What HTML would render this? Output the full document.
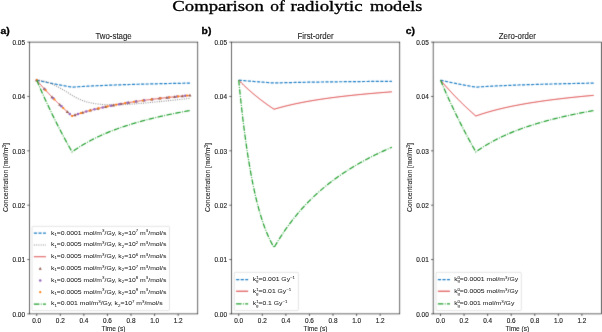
<!DOCTYPE html>
<html><head><meta charset="utf-8"><style>
html,body{margin:0;padding:0;background:#fff;width:602px;height:332px;overflow:hidden}
svg{display:block}
</style></head><body>
<svg width="602" height="332" viewBox="0 0 602 332">
<defs><filter id="bl" color-interpolation-filters="sRGB" x="0" y="0" width="602" height="332" filterUnits="userSpaceOnUse"><feConvolveMatrix order="3" kernelMatrix="1 6 1 6 36 6 1 6 1" divisor="64" edgeMode="duplicate"/></filter><filter id="tf" color-interpolation-filters="sRGB" x="0" y="0" width="602" height="332" filterUnits="userSpaceOnUse"><feConvolveMatrix order="3" kernelMatrix="0 0 0 0 1 0 0 0 0" divisor="1" edgeMode="none"/></filter></defs>
<rect width="602" height="332" fill="#fff"/>
<g filter="url(#bl)">
<rect width="602" height="332" fill="#fff"/>
<line x1="27.28" y1="313.90" x2="29.38" y2="313.90" stroke="#000" stroke-width="0.6"/>
<line x1="27.28" y1="259.54" x2="29.38" y2="259.54" stroke="#000" stroke-width="0.6"/>
<line x1="27.28" y1="205.18" x2="29.38" y2="205.18" stroke="#000" stroke-width="0.6"/>
<line x1="27.28" y1="150.82" x2="29.38" y2="150.82" stroke="#000" stroke-width="0.6"/>
<line x1="27.28" y1="96.46" x2="29.38" y2="96.46" stroke="#000" stroke-width="0.6"/>
<line x1="27.28" y1="42.10" x2="29.38" y2="42.10" stroke="#000" stroke-width="0.6"/>
<line x1="36.73" y1="313.90" x2="36.73" y2="316.00" stroke="#000" stroke-width="0.6"/>
<line x1="60.30" y1="313.90" x2="60.30" y2="316.00" stroke="#000" stroke-width="0.6"/>
<line x1="83.87" y1="313.90" x2="83.87" y2="316.00" stroke="#000" stroke-width="0.6"/>
<line x1="107.44" y1="313.90" x2="107.44" y2="316.00" stroke="#000" stroke-width="0.6"/>
<line x1="131.01" y1="313.90" x2="131.01" y2="316.00" stroke="#000" stroke-width="0.6"/>
<line x1="154.58" y1="313.90" x2="154.58" y2="316.00" stroke="#000" stroke-width="0.6"/>
<line x1="178.15" y1="313.90" x2="178.15" y2="316.00" stroke="#000" stroke-width="0.6"/>
<line x1="229.28" y1="313.90" x2="231.38" y2="313.90" stroke="#000" stroke-width="0.6"/>
<line x1="229.28" y1="259.54" x2="231.38" y2="259.54" stroke="#000" stroke-width="0.6"/>
<line x1="229.28" y1="205.18" x2="231.38" y2="205.18" stroke="#000" stroke-width="0.6"/>
<line x1="229.28" y1="150.82" x2="231.38" y2="150.82" stroke="#000" stroke-width="0.6"/>
<line x1="229.28" y1="96.46" x2="231.38" y2="96.46" stroke="#000" stroke-width="0.6"/>
<line x1="229.28" y1="42.10" x2="231.38" y2="42.10" stroke="#000" stroke-width="0.6"/>
<line x1="238.73" y1="313.90" x2="238.73" y2="316.00" stroke="#000" stroke-width="0.6"/>
<line x1="262.30" y1="313.90" x2="262.30" y2="316.00" stroke="#000" stroke-width="0.6"/>
<line x1="285.87" y1="313.90" x2="285.87" y2="316.00" stroke="#000" stroke-width="0.6"/>
<line x1="309.44" y1="313.90" x2="309.44" y2="316.00" stroke="#000" stroke-width="0.6"/>
<line x1="333.01" y1="313.90" x2="333.01" y2="316.00" stroke="#000" stroke-width="0.6"/>
<line x1="356.58" y1="313.90" x2="356.58" y2="316.00" stroke="#000" stroke-width="0.6"/>
<line x1="380.15" y1="313.90" x2="380.15" y2="316.00" stroke="#000" stroke-width="0.6"/>
<line x1="431.05" y1="313.90" x2="433.15" y2="313.90" stroke="#000" stroke-width="0.6"/>
<line x1="431.05" y1="259.54" x2="433.15" y2="259.54" stroke="#000" stroke-width="0.6"/>
<line x1="431.05" y1="205.18" x2="433.15" y2="205.18" stroke="#000" stroke-width="0.6"/>
<line x1="431.05" y1="150.82" x2="433.15" y2="150.82" stroke="#000" stroke-width="0.6"/>
<line x1="431.05" y1="96.46" x2="433.15" y2="96.46" stroke="#000" stroke-width="0.6"/>
<line x1="431.05" y1="42.10" x2="433.15" y2="42.10" stroke="#000" stroke-width="0.6"/>
<line x1="440.50" y1="313.90" x2="440.50" y2="316.00" stroke="#000" stroke-width="0.6"/>
<line x1="464.07" y1="313.90" x2="464.07" y2="316.00" stroke="#000" stroke-width="0.6"/>
<line x1="487.64" y1="313.90" x2="487.64" y2="316.00" stroke="#000" stroke-width="0.6"/>
<line x1="511.21" y1="313.90" x2="511.21" y2="316.00" stroke="#000" stroke-width="0.6"/>
<line x1="534.78" y1="313.90" x2="534.78" y2="316.00" stroke="#000" stroke-width="0.6"/>
<line x1="558.35" y1="313.90" x2="558.35" y2="316.00" stroke="#000" stroke-width="0.6"/>
<line x1="581.92" y1="313.90" x2="581.92" y2="316.00" stroke="#000" stroke-width="0.6"/>
<path d="M36.73,80.15 L37.32,80.29 L37.91,80.42 L38.50,80.56 L39.09,80.69 L39.68,80.82 L40.27,80.96 L40.85,81.09 L41.44,81.22 L42.03,81.35 L42.62,81.48 L43.21,81.61 L43.80,81.73 L44.39,81.86 L44.98,81.99 L45.57,82.11 L46.16,82.24 L46.75,82.36 L47.34,82.49 L47.93,82.61 L48.52,82.73 L49.10,82.85 L49.69,82.98 L50.28,83.10 L50.87,83.22 L51.46,83.34 L52.05,83.46 L52.64,83.57 L53.23,83.69 L53.82,83.81 L54.41,83.92 L55.00,84.04 L55.59,84.16 L56.18,84.27 L56.76,84.38 L57.35,84.50 L57.94,84.61 L58.53,84.72 L59.12,84.83 L59.71,84.95 L60.30,85.06 L60.89,85.17 L61.48,85.28 L62.07,85.39 L62.66,85.49 L63.25,85.60 L63.84,85.71 L64.42,85.82 L65.01,85.92 L65.60,86.03 L66.19,86.14 L66.78,86.24 L67.37,86.35 L67.96,86.45 L68.55,86.55 L69.14,86.66 L69.73,86.76 L70.32,86.86 L70.91,86.96 L71.50,87.06 L72.09,87.16 L72.67,87.12 L73.26,87.08 L73.85,87.04 L74.44,87.00 L75.03,86.96 L75.62,86.92 L76.21,86.89 L76.80,86.85 L77.39,86.81 L77.98,86.77 L78.57,86.73 L79.16,86.70 L79.75,86.66 L80.33,86.62 L80.92,86.59 L81.51,86.55 L82.10,86.52 L82.69,86.48 L83.28,86.45 L83.87,86.42 L84.46,86.38 L85.05,86.35 L85.64,86.32 L86.23,86.28 L86.82,86.25 L87.41,86.22 L87.99,86.19 L88.58,86.16 L89.17,86.12 L89.76,86.09 L90.35,86.06 L90.94,86.03 L91.53,86.00 L92.12,85.97 L92.71,85.94 L93.30,85.91 L93.89,85.88 L94.48,85.86 L95.07,85.83 L95.66,85.80 L96.24,85.77 L96.83,85.74 L97.42,85.72 L98.01,85.69 L98.60,85.66 L99.19,85.63 L99.78,85.61 L100.37,85.58 L100.96,85.55 L101.55,85.53 L102.14,85.50 L102.73,85.48 L103.32,85.45 L103.90,85.43 L104.49,85.40 L105.08,85.38 L105.67,85.35 L106.26,85.33 L106.85,85.30 L107.44,85.28 L108.03,85.26 L108.62,85.23 L109.21,85.21 L109.80,85.19 L110.39,85.16 L110.98,85.14 L111.56,85.12 L112.15,85.10 L112.74,85.07 L113.33,85.05 L113.92,85.03 L114.51,85.01 L115.10,84.99 L115.69,84.97 L116.28,84.94 L116.87,84.92 L117.46,84.90 L118.05,84.88 L118.64,84.86 L119.22,84.84 L119.81,84.82 L120.40,84.80 L120.99,84.78 L121.58,84.76 L122.17,84.74 L122.76,84.72 L123.35,84.70 L123.94,84.68 L124.53,84.66 L125.12,84.64 L125.71,84.63 L126.30,84.61 L126.89,84.59 L127.47,84.57 L128.06,84.55 L128.65,84.53 L129.24,84.52 L129.83,84.50 L130.42,84.48 L131.01,84.46 L131.60,84.44 L132.19,84.43 L132.78,84.41 L133.37,84.39 L133.96,84.37 L134.55,84.36 L135.13,84.34 L135.72,84.32 L136.31,84.31 L136.90,84.29 L137.49,84.27 L138.08,84.26 L138.67,84.24 L139.26,84.22 L139.85,84.21 L140.44,84.19 L141.03,84.18 L141.62,84.16 L142.21,84.14 L142.79,84.13 L143.38,84.11 L143.97,84.10 L144.56,84.08 L145.15,84.07 L145.74,84.05 L146.33,84.04 L146.92,84.02 L147.51,84.01 L148.10,83.99 L148.69,83.98 L149.28,83.96 L149.87,83.95 L150.46,83.93 L151.04,83.92 L151.63,83.91 L152.22,83.89 L152.81,83.88 L153.40,83.86 L153.99,83.85 L154.58,83.84 L155.17,83.82 L155.76,83.81 L156.35,83.79 L156.94,83.78 L157.53,83.77 L158.12,83.75 L158.70,83.74 L159.29,83.73 L159.88,83.71 L160.47,83.70 L161.06,83.69 L161.65,83.67 L162.24,83.66 L162.83,83.65 L163.42,83.64 L164.01,83.62 L164.60,83.61 L165.19,83.60 L165.78,83.58 L166.36,83.57 L166.95,83.56 L167.54,83.55 L168.13,83.54 L168.72,83.52 L169.31,83.51 L169.90,83.50 L170.49,83.49 L171.08,83.47 L171.67,83.46 L172.26,83.45 L172.85,83.44 L173.44,83.43 L174.03,83.42 L174.61,83.40 L175.20,83.39 L175.79,83.38 L176.38,83.37 L176.97,83.36 L177.56,83.35 L178.15,83.33 L178.74,83.32 L179.33,83.31 L179.92,83.30 L180.51,83.29 L181.10,83.28 L181.69,83.27 L182.27,83.26 L182.86,83.25 L183.45,83.24 L184.04,83.22 L184.63,83.21 L185.22,83.20 L185.81,83.19 L186.40,83.18 L186.99,83.17 L187.58,83.16 L188.17,83.15 L188.76,83.14 L189.35,83.13 L189.93,83.12" fill="none" stroke="#1a7cc4" stroke-width="1.2" stroke-dasharray="3.18,1.39"/>
<path d="M36.73,80.15 L37.32,80.16 L37.91,80.18 L38.50,80.21 L39.09,80.26 L39.68,80.32 L40.27,80.40 L40.85,80.48 L41.44,80.58 L42.03,80.69 L42.62,80.81 L43.21,80.94 L43.80,81.08 L44.39,81.23 L44.98,81.39 L45.57,81.56 L46.16,81.74 L46.75,81.93 L47.34,82.13 L47.93,82.33 L48.52,82.55 L49.10,82.77 L49.69,83.00 L50.28,83.24 L50.87,83.48 L51.46,83.73 L52.05,83.99 L52.64,84.25 L53.23,84.52 L53.82,84.80 L54.41,85.08 L55.00,85.37 L55.59,85.66 L56.18,85.96 L56.76,86.26 L57.35,86.57 L57.94,86.88 L58.53,87.20 L59.12,87.52 L59.71,87.85 L60.30,88.18 L60.89,88.51 L61.48,88.85 L62.07,89.19 L62.66,89.53 L63.25,89.88 L63.84,90.23 L64.42,90.58 L65.01,90.93 L65.60,91.29 L66.19,91.65 L66.78,92.02 L67.37,92.38 L67.96,92.75 L68.55,93.12 L69.14,93.49 L69.73,93.87 L70.32,94.24 L70.91,94.62 L71.50,95.00 L72.09,95.38 L72.67,95.75 L73.26,96.12 L73.85,96.47 L74.44,96.81 L75.03,97.14 L75.62,97.46 L76.21,97.77 L76.80,98.07 L77.39,98.36 L77.98,98.64 L78.57,98.91 L79.16,99.18 L79.75,99.43 L80.33,99.68 L80.92,99.91 L81.51,100.14 L82.10,100.37 L82.69,100.58 L83.28,100.79 L83.87,100.99 L84.46,101.18 L85.05,101.37 L85.64,101.55 L86.23,101.72 L86.82,101.89 L87.41,102.05 L87.99,102.20 L88.58,102.35 L89.17,102.49 L89.76,102.63 L90.35,102.76 L90.94,102.89 L91.53,103.01 L92.12,103.13 L92.71,103.24 L93.30,103.35 L93.89,103.45 L94.48,103.55 L95.07,103.64 L95.66,103.73 L96.24,103.82 L96.83,103.90 L97.42,103.98 L98.01,104.05 L98.60,104.12 L99.19,104.19 L99.78,104.25 L100.37,104.31 L100.96,104.36 L101.55,104.41 L102.14,104.46 L102.73,104.51 L103.32,104.55 L103.90,104.59 L104.49,104.63 L105.08,104.66 L105.67,104.69 L106.26,104.72 L106.85,104.75 L107.44,104.77 L108.03,104.79 L108.62,104.81 L109.21,104.82 L109.80,104.84 L110.39,104.85 L110.98,104.86 L111.56,104.86 L112.15,104.87 L112.74,104.87 L113.33,104.87 L113.92,104.87 L114.51,104.86 L115.10,104.86 L115.69,104.85 L116.28,104.84 L116.87,104.83 L117.46,104.82 L118.05,104.81 L118.64,104.79 L119.22,104.78 L119.81,104.76 L120.40,104.74 L120.99,104.72 L121.58,104.69 L122.17,104.67 L122.76,104.64 L123.35,104.62 L123.94,104.59 L124.53,104.56 L125.12,104.53 L125.71,104.50 L126.30,104.47 L126.89,104.43 L127.47,104.40 L128.06,104.36 L128.65,104.33 L129.24,104.29 L129.83,104.25 L130.42,104.21 L131.01,104.17 L131.60,104.13 L132.19,104.09 L132.78,104.05 L133.37,104.00 L133.96,103.96 L134.55,103.91 L135.13,103.87 L135.72,103.82 L136.31,103.78 L136.90,103.73 L137.49,103.68 L138.08,103.63 L138.67,103.58 L139.26,103.53 L139.85,103.48 L140.44,103.43 L141.03,103.38 L141.62,103.33 L142.21,103.27 L142.79,103.22 L143.38,103.17 L143.97,103.11 L144.56,103.06 L145.15,103.00 L145.74,102.95 L146.33,102.89 L146.92,102.84 L147.51,102.78 L148.10,102.73 L148.69,102.67 L149.28,102.61 L149.87,102.55 L150.46,102.50 L151.04,102.44 L151.63,102.38 L152.22,102.32 L152.81,102.26 L153.40,102.20 L153.99,102.15 L154.58,102.09 L155.17,102.03 L155.76,101.97 L156.35,101.91 L156.94,101.85 L157.53,101.79 L158.12,101.73 L158.70,101.67 L159.29,101.61 L159.88,101.55 L160.47,101.48 L161.06,101.42 L161.65,101.36 L162.24,101.30 L162.83,101.24 L163.42,101.18 L164.01,101.12 L164.60,101.06 L165.19,101.00 L165.78,100.93 L166.36,100.87 L166.95,100.81 L167.54,100.75 L168.13,100.69 L168.72,100.63 L169.31,100.56 L169.90,100.50 L170.49,100.44 L171.08,100.38 L171.67,100.32 L172.26,100.26 L172.85,100.19 L173.44,100.13 L174.03,100.07 L174.61,100.01 L175.20,99.95 L175.79,99.89 L176.38,99.83 L176.97,99.76 L177.56,99.70 L178.15,99.64 L178.74,99.58 L179.33,99.52 L179.92,99.46 L180.51,99.40 L181.10,99.34 L181.69,99.28 L182.27,99.22 L182.86,99.16 L183.45,99.10 L184.04,99.03 L184.63,98.97 L185.22,98.91 L185.81,98.85 L186.40,98.79 L186.99,98.73 L187.58,98.67 L188.17,98.61 L188.76,98.56 L189.35,98.50 L189.93,98.44" fill="none" stroke="#7f7f7f" stroke-width="1.05" stroke-dasharray="0.9,1.38"/>
<path d="M36.73,80.15 L37.32,80.85 L37.91,81.54 L38.50,82.23 L39.09,82.91 L39.68,83.59 L40.27,84.27 L40.85,84.94 L41.44,85.61 L42.03,86.27 L42.62,86.93 L43.21,87.59 L43.80,88.25 L44.39,88.90 L44.98,89.54 L45.57,90.19 L46.16,90.83 L46.75,91.47 L47.34,92.10 L47.93,92.73 L48.52,93.36 L49.10,93.98 L49.69,94.60 L50.28,95.22 L50.87,95.83 L51.46,96.44 L52.05,97.05 L52.64,97.66 L53.23,98.26 L53.82,98.86 L54.41,99.45 L55.00,100.04 L55.59,100.63 L56.18,101.22 L56.76,101.80 L57.35,102.39 L57.94,102.96 L58.53,103.54 L59.12,104.11 L59.71,104.68 L60.30,105.25 L60.89,105.81 L61.48,106.37 L62.07,106.93 L62.66,107.49 L63.25,108.04 L63.84,108.59 L64.42,109.14 L65.01,109.68 L65.60,110.23 L66.19,110.77 L66.78,111.30 L67.37,111.84 L67.96,112.37 L68.55,112.90 L69.14,113.43 L69.73,113.95 L70.32,114.48 L70.91,115.00 L71.50,115.51 L72.09,116.03 L72.67,115.82 L73.26,115.61 L73.85,115.40 L74.44,115.20 L75.03,115.00 L75.62,114.80 L76.21,114.60 L76.80,114.40 L77.39,114.21 L77.98,114.02 L78.57,113.83 L79.16,113.64 L79.75,113.45 L80.33,113.27 L80.92,113.09 L81.51,112.91 L82.10,112.73 L82.69,112.55 L83.28,112.37 L83.87,112.20 L84.46,112.03 L85.05,111.86 L85.64,111.69 L86.23,111.52 L86.82,111.35 L87.41,111.19 L87.99,111.03 L88.58,110.87 L89.17,110.71 L89.76,110.55 L90.35,110.39 L90.94,110.23 L91.53,110.08 L92.12,109.93 L92.71,109.78 L93.30,109.63 L93.89,109.48 L94.48,109.33 L95.07,109.19 L95.66,109.04 L96.24,108.90 L96.83,108.75 L97.42,108.61 L98.01,108.47 L98.60,108.34 L99.19,108.20 L99.78,108.06 L100.37,107.93 L100.96,107.79 L101.55,107.66 L102.14,107.53 L102.73,107.40 L103.32,107.27 L103.90,107.14 L104.49,107.01 L105.08,106.89 L105.67,106.76 L106.26,106.64 L106.85,106.52 L107.44,106.39 L108.03,106.27 L108.62,106.15 L109.21,106.03 L109.80,105.92 L110.39,105.80 L110.98,105.68 L111.56,105.57 L112.15,105.45 L112.74,105.34 L113.33,105.23 L113.92,105.11 L114.51,105.00 L115.10,104.89 L115.69,104.78 L116.28,104.67 L116.87,104.57 L117.46,104.46 L118.05,104.35 L118.64,104.25 L119.22,104.14 L119.81,104.04 L120.40,103.94 L120.99,103.83 L121.58,103.73 L122.17,103.63 L122.76,103.53 L123.35,103.43 L123.94,103.33 L124.53,103.23 L125.12,103.14 L125.71,103.04 L126.30,102.94 L126.89,102.85 L127.47,102.75 L128.06,102.66 L128.65,102.57 L129.24,102.47 L129.83,102.38 L130.42,102.29 L131.01,102.20 L131.60,102.11 L132.19,102.02 L132.78,101.93 L133.37,101.84 L133.96,101.75 L134.55,101.67 L135.13,101.58 L135.72,101.49 L136.31,101.41 L136.90,101.32 L137.49,101.24 L138.08,101.15 L138.67,101.07 L139.26,100.99 L139.85,100.91 L140.44,100.82 L141.03,100.74 L141.62,100.66 L142.21,100.58 L142.79,100.50 L143.38,100.42 L143.97,100.34 L144.56,100.26 L145.15,100.19 L145.74,100.11 L146.33,100.03 L146.92,99.95 L147.51,99.88 L148.10,99.80 L148.69,99.73 L149.28,99.65 L149.87,99.58 L150.46,99.50 L151.04,99.43 L151.63,99.36 L152.22,99.28 L152.81,99.21 L153.40,99.14 L153.99,99.07 L154.58,99.00 L155.17,98.93 L155.76,98.86 L156.35,98.79 L156.94,98.72 L157.53,98.65 L158.12,98.58 L158.70,98.51 L159.29,98.44 L159.88,98.37 L160.47,98.31 L161.06,98.24 L161.65,98.17 L162.24,98.11 L162.83,98.04 L163.42,97.97 L164.01,97.91 L164.60,97.84 L165.19,97.78 L165.78,97.72 L166.36,97.65 L166.95,97.59 L167.54,97.52 L168.13,97.46 L168.72,97.40 L169.31,97.34 L169.90,97.27 L170.49,97.21 L171.08,97.15 L171.67,97.09 L172.26,97.03 L172.85,96.97 L173.44,96.91 L174.03,96.85 L174.61,96.79 L175.20,96.73 L175.79,96.67 L176.38,96.61 L176.97,96.55 L177.56,96.50 L178.15,96.44 L178.74,96.38 L179.33,96.32 L179.92,96.26 L180.51,96.21 L181.10,96.15 L181.69,96.10 L182.27,96.04 L182.86,95.98 L183.45,95.93 L184.04,95.87 L184.63,95.82 L185.22,95.76 L185.81,95.71 L186.40,95.65 L186.99,95.60 L187.58,95.55 L188.17,95.49 L188.76,95.44 L189.35,95.39 L189.93,95.33" fill="none" stroke="#d62728" stroke-width="0.8"/>
<path d="M36.73,78.52 L38.28,81.31 L35.18,81.31Z" fill="#8c564b"/>
<path d="M44.39,87.27 L45.94,90.06 L42.84,90.06Z" fill="#8c564b"/>
<path d="M52.05,95.42 L53.60,98.21 L50.50,98.21Z" fill="#8c564b"/>
<path d="M59.71,103.05 L61.26,105.84 L58.16,105.84Z" fill="#8c564b"/>
<path d="M67.37,110.21 L68.92,113.00 L65.82,113.00Z" fill="#8c564b"/>
<path d="M75.03,113.37 L76.58,116.16 L73.48,116.16Z" fill="#8c564b"/>
<path d="M82.69,110.92 L84.24,113.71 L81.14,113.71Z" fill="#8c564b"/>
<path d="M90.35,108.76 L91.90,111.55 L88.80,111.55Z" fill="#8c564b"/>
<path d="M98.01,106.85 L99.56,109.64 L96.46,109.64Z" fill="#8c564b"/>
<path d="M105.67,105.14 L107.22,107.93 L104.12,107.93Z" fill="#8c564b"/>
<path d="M113.33,103.60 L114.88,106.39 L111.78,106.39Z" fill="#8c564b"/>
<path d="M120.99,102.21 L122.54,105.00 L119.44,105.00Z" fill="#8c564b"/>
<path d="M128.65,100.94 L130.20,103.73 L127.10,103.73Z" fill="#8c564b"/>
<path d="M136.31,99.78 L137.86,102.57 L134.76,102.57Z" fill="#8c564b"/>
<path d="M143.97,98.71 L145.52,101.50 L142.42,101.50Z" fill="#8c564b"/>
<path d="M151.63,97.73 L153.18,100.52 L150.08,100.52Z" fill="#8c564b"/>
<path d="M159.29,96.81 L160.84,99.60 L157.74,99.60Z" fill="#8c564b"/>
<path d="M166.95,95.96 L168.50,98.75 L165.40,98.75Z" fill="#8c564b"/>
<path d="M174.61,95.16 L176.16,97.95 L173.06,97.95Z" fill="#8c564b"/>
<path d="M182.27,94.41 L183.82,97.20 L180.72,97.20Z" fill="#8c564b"/>
<path d="M189.93,93.71 L191.48,96.50 L188.38,96.50Z" fill="#8c564b"/>
<circle cx="36.73" cy="80.15" r="1.25" fill="#9467bd"/>
<circle cx="44.98" cy="89.54" r="1.25" fill="#9467bd"/>
<circle cx="53.23" cy="98.26" r="1.25" fill="#9467bd"/>
<circle cx="61.48" cy="106.37" r="1.25" fill="#9467bd"/>
<circle cx="69.73" cy="113.95" r="1.25" fill="#9467bd"/>
<circle cx="77.98" cy="114.02" r="1.25" fill="#9467bd"/>
<circle cx="86.23" cy="111.52" r="1.25" fill="#9467bd"/>
<circle cx="94.48" cy="109.33" r="1.25" fill="#9467bd"/>
<circle cx="102.73" cy="107.40" r="1.25" fill="#9467bd"/>
<circle cx="110.98" cy="105.68" r="1.25" fill="#9467bd"/>
<circle cx="119.22" cy="104.14" r="1.25" fill="#9467bd"/>
<circle cx="127.47" cy="102.75" r="1.25" fill="#9467bd"/>
<circle cx="135.72" cy="101.49" r="1.25" fill="#9467bd"/>
<circle cx="143.97" cy="100.34" r="1.25" fill="#9467bd"/>
<circle cx="152.22" cy="99.28" r="1.25" fill="#9467bd"/>
<circle cx="160.47" cy="98.31" r="1.25" fill="#9467bd"/>
<circle cx="168.72" cy="97.40" r="1.25" fill="#9467bd"/>
<circle cx="176.97" cy="96.55" r="1.25" fill="#9467bd"/>
<circle cx="185.22" cy="95.76" r="1.25" fill="#9467bd"/>
<circle cx="36.73" cy="80.15" r="1.12" fill="#ff7f0e"/>
<circle cx="45.57" cy="90.19" r="1.12" fill="#ff7f0e"/>
<circle cx="54.41" cy="99.45" r="1.12" fill="#ff7f0e"/>
<circle cx="63.25" cy="108.04" r="1.12" fill="#ff7f0e"/>
<circle cx="72.09" cy="116.03" r="1.12" fill="#ff7f0e"/>
<circle cx="80.92" cy="113.09" r="1.12" fill="#ff7f0e"/>
<circle cx="89.76" cy="110.55" r="1.12" fill="#ff7f0e"/>
<circle cx="98.60" cy="108.34" r="1.12" fill="#ff7f0e"/>
<circle cx="107.44" cy="106.39" r="1.12" fill="#ff7f0e"/>
<circle cx="116.28" cy="104.67" r="1.12" fill="#ff7f0e"/>
<circle cx="125.12" cy="103.14" r="1.12" fill="#ff7f0e"/>
<circle cx="133.96" cy="101.75" r="1.12" fill="#ff7f0e"/>
<circle cx="142.79" cy="100.50" r="1.12" fill="#ff7f0e"/>
<circle cx="151.63" cy="99.36" r="1.12" fill="#ff7f0e"/>
<circle cx="160.47" cy="98.31" r="1.12" fill="#ff7f0e"/>
<circle cx="169.31" cy="97.34" r="1.12" fill="#ff7f0e"/>
<circle cx="178.15" cy="96.44" r="1.12" fill="#ff7f0e"/>
<circle cx="186.99" cy="95.60" r="1.12" fill="#ff7f0e"/>
<path d="M36.73,80.15 L37.32,81.54 L37.91,82.93 L38.50,84.30 L39.09,85.67 L39.68,87.03 L40.27,88.38 L40.85,89.72 L41.44,91.06 L42.03,92.39 L42.62,93.71 L43.21,95.03 L43.80,96.34 L44.39,97.64 L44.98,98.94 L45.57,100.22 L46.16,101.50 L46.75,102.78 L47.34,104.05 L47.93,105.31 L48.52,106.56 L49.10,107.81 L49.69,109.05 L50.28,110.28 L50.87,111.51 L51.46,112.73 L52.05,113.95 L52.64,115.16 L53.23,116.36 L53.82,117.56 L54.41,118.75 L55.00,119.94 L55.59,121.12 L56.18,122.29 L56.76,123.46 L57.35,124.62 L57.94,125.77 L58.53,126.93 L59.12,128.07 L59.71,129.21 L60.30,130.34 L60.89,131.47 L61.48,132.59 L62.07,133.71 L62.66,134.82 L63.25,135.93 L63.84,137.03 L64.42,138.12 L65.01,139.21 L65.60,140.30 L66.19,141.38 L66.78,142.45 L67.37,143.52 L67.96,144.59 L68.55,145.65 L69.14,146.70 L69.73,147.75 L70.32,148.80 L70.91,149.84 L71.50,150.88 L72.09,151.91 L72.67,151.49 L73.26,151.07 L73.85,150.66 L74.44,150.25 L75.03,149.84 L75.62,149.44 L76.21,149.05 L76.80,148.66 L77.39,148.27 L77.98,147.89 L78.57,147.50 L79.16,147.13 L79.75,146.76 L80.33,146.39 L80.92,146.02 L81.51,145.66 L82.10,145.30 L82.69,144.95 L83.28,144.59 L83.87,144.25 L84.46,143.90 L85.05,143.56 L85.64,143.22 L86.23,142.89 L86.82,142.56 L87.41,142.23 L87.99,141.90 L88.58,141.58 L89.17,141.26 L89.76,140.94 L90.35,140.63 L90.94,140.32 L91.53,140.01 L92.12,139.70 L92.71,139.40 L93.30,139.10 L93.89,138.80 L94.48,138.51 L95.07,138.22 L95.66,137.93 L96.24,137.64 L96.83,137.36 L97.42,137.08 L98.01,136.80 L98.60,136.52 L99.19,136.25 L99.78,135.97 L100.37,135.70 L100.96,135.44 L101.55,135.17 L102.14,134.91 L102.73,134.65 L103.32,134.39 L103.90,134.13 L104.49,133.88 L105.08,133.62 L105.67,133.37 L106.26,133.13 L106.85,132.88 L107.44,132.64 L108.03,132.39 L108.62,132.15 L109.21,131.92 L109.80,131.68 L110.39,131.44 L110.98,131.21 L111.56,130.98 L112.15,130.75 L112.74,130.52 L113.33,130.30 L113.92,130.07 L114.51,129.85 L115.10,129.63 L115.69,129.41 L116.28,129.20 L116.87,128.98 L117.46,128.77 L118.05,128.55 L118.64,128.34 L119.22,128.13 L119.81,127.93 L120.40,127.72 L120.99,127.52 L121.58,127.31 L122.17,127.11 L122.76,126.91 L123.35,126.71 L123.94,126.51 L124.53,126.32 L125.12,126.12 L125.71,125.93 L126.30,125.74 L126.89,125.55 L127.47,125.36 L128.06,125.17 L128.65,124.98 L129.24,124.80 L129.83,124.61 L130.42,124.43 L131.01,124.25 L131.60,124.07 L132.19,123.89 L132.78,123.71 L133.37,123.53 L133.96,123.36 L134.55,123.18 L135.13,123.01 L135.72,122.84 L136.31,122.66 L136.90,122.49 L137.49,122.33 L138.08,122.16 L138.67,121.99 L139.26,121.82 L139.85,121.66 L140.44,121.50 L141.03,121.33 L141.62,121.17 L142.21,121.01 L142.79,120.85 L143.38,120.69 L143.97,120.53 L144.56,120.38 L145.15,120.22 L145.74,120.06 L146.33,119.91 L146.92,119.76 L147.51,119.60 L148.10,119.45 L148.69,119.30 L149.28,119.15 L149.87,119.00 L150.46,118.85 L151.04,118.71 L151.63,118.56 L152.22,118.42 L152.81,118.27 L153.40,118.13 L153.99,117.98 L154.58,117.84 L155.17,117.70 L155.76,117.56 L156.35,117.42 L156.94,117.28 L157.53,117.14 L158.12,117.00 L158.70,116.87 L159.29,116.73 L159.88,116.59 L160.47,116.46 L161.06,116.33 L161.65,116.19 L162.24,116.06 L162.83,115.93 L163.42,115.80 L164.01,115.67 L164.60,115.54 L165.19,115.41 L165.78,115.28 L166.36,115.15 L166.95,115.02 L167.54,114.90 L168.13,114.77 L168.72,114.65 L169.31,114.52 L169.90,114.40 L170.49,114.27 L171.08,114.15 L171.67,114.03 L172.26,113.91 L172.85,113.79 L173.44,113.66 L174.03,113.55 L174.61,113.43 L175.20,113.31 L175.79,113.19 L176.38,113.07 L176.97,112.95 L177.56,112.84 L178.15,112.72 L178.74,112.61 L179.33,112.49 L179.92,112.38 L180.51,112.26 L181.10,112.15 L181.69,112.04 L182.27,111.93 L182.86,111.81 L183.45,111.70 L184.04,111.59 L184.63,111.48 L185.22,111.37 L185.81,111.26 L186.40,111.16 L186.99,111.05 L187.58,110.94 L188.17,110.83 L188.76,110.73 L189.35,110.62 L189.93,110.51" fill="none" stroke="#1f9e2b" stroke-width="1.22" stroke-dasharray="5.5,1.37,0.86,1.37"/>
<path d="M238.73,80.15 L239.32,80.21 L239.91,80.26 L240.50,80.32 L241.09,80.37 L241.68,80.42 L242.27,80.48 L242.85,80.53 L243.44,80.58 L244.03,80.64 L244.62,80.69 L245.21,80.74 L245.80,80.79 L246.39,80.84 L246.98,80.90 L247.57,80.95 L248.16,81.00 L248.75,81.05 L249.34,81.10 L249.93,81.15 L250.51,81.20 L251.10,81.25 L251.69,81.30 L252.28,81.34 L252.87,81.39 L253.46,81.44 L254.05,81.49 L254.64,81.54 L255.23,81.58 L255.82,81.63 L256.41,81.68 L257.00,81.72 L257.59,81.77 L258.18,81.82 L258.76,81.86 L259.35,81.91 L259.94,81.95 L260.53,82.00 L261.12,82.04 L261.71,82.09 L262.30,82.13 L262.89,82.18 L263.48,82.22 L264.07,82.27 L264.66,82.31 L265.25,82.35 L265.84,82.40 L266.42,82.44 L267.01,82.48 L267.60,82.52 L268.19,82.57 L268.78,82.61 L269.37,82.65 L269.96,82.69 L270.55,82.73 L271.14,82.78 L271.73,82.82 L272.32,82.86 L272.91,82.90 L273.50,82.94 L274.08,82.98 L274.67,82.96 L275.26,82.94 L275.85,82.93 L276.44,82.91 L277.03,82.89 L277.62,82.88 L278.21,82.86 L278.80,82.85 L279.39,82.83 L279.98,82.81 L280.57,82.80 L281.16,82.78 L281.75,82.77 L282.33,82.75 L282.92,82.74 L283.51,82.72 L284.10,82.71 L284.69,82.69 L285.28,82.68 L285.87,82.67 L286.46,82.65 L287.05,82.64 L287.64,82.62 L288.23,82.61 L288.82,82.60 L289.41,82.58 L289.99,82.57 L290.58,82.56 L291.17,82.54 L291.76,82.53 L292.35,82.52 L292.94,82.50 L293.53,82.49 L294.12,82.48 L294.71,82.47 L295.30,82.45 L295.89,82.44 L296.48,82.43 L297.07,82.42 L297.65,82.41 L298.24,82.39 L298.83,82.38 L299.42,82.37 L300.01,82.36 L300.60,82.35 L301.19,82.34 L301.78,82.33 L302.37,82.31 L302.96,82.30 L303.55,82.29 L304.14,82.28 L304.73,82.27 L305.32,82.26 L305.90,82.25 L306.49,82.24 L307.08,82.23 L307.67,82.22 L308.26,82.21 L308.85,82.20 L309.44,82.19 L310.03,82.18 L310.62,82.17 L311.21,82.16 L311.80,82.15 L312.39,82.14 L312.98,82.13 L313.56,82.12 L314.15,82.11 L314.74,82.10 L315.33,82.09 L315.92,82.08 L316.51,82.07 L317.10,82.07 L317.69,82.06 L318.28,82.05 L318.87,82.04 L319.46,82.03 L320.05,82.02 L320.64,82.01 L321.23,82.00 L321.81,82.00 L322.40,81.99 L322.99,81.98 L323.58,81.97 L324.17,81.96 L324.76,81.95 L325.35,81.95 L325.94,81.94 L326.53,81.93 L327.12,81.92 L327.71,81.91 L328.30,81.91 L328.89,81.90 L329.47,81.89 L330.06,81.88 L330.65,81.87 L331.24,81.87 L331.83,81.86 L332.42,81.85 L333.01,81.84 L333.60,81.84 L334.19,81.83 L334.78,81.82 L335.37,81.82 L335.96,81.81 L336.55,81.80 L337.13,81.79 L337.72,81.79 L338.31,81.78 L338.90,81.77 L339.49,81.77 L340.08,81.76 L340.67,81.75 L341.26,81.75 L341.85,81.74 L342.44,81.73 L343.03,81.73 L343.62,81.72 L344.21,81.71 L344.79,81.71 L345.38,81.70 L345.97,81.69 L346.56,81.69 L347.15,81.68 L347.74,81.67 L348.33,81.67 L348.92,81.66 L349.51,81.65 L350.10,81.65 L350.69,81.64 L351.28,81.64 L351.87,81.63 L352.46,81.62 L353.04,81.62 L353.63,81.61 L354.22,81.61 L354.81,81.60 L355.40,81.59 L355.99,81.59 L356.58,81.58 L357.17,81.58 L357.76,81.57 L358.35,81.56 L358.94,81.56 L359.53,81.55 L360.12,81.55 L360.70,81.54 L361.29,81.54 L361.88,81.53 L362.47,81.53 L363.06,81.52 L363.65,81.51 L364.24,81.51 L364.83,81.50 L365.42,81.50 L366.01,81.49 L366.60,81.49 L367.19,81.48 L367.78,81.48 L368.37,81.47 L368.95,81.47 L369.54,81.46 L370.13,81.46 L370.72,81.45 L371.31,81.45 L371.90,81.44 L372.49,81.44 L373.08,81.43 L373.67,81.43 L374.26,81.42 L374.85,81.42 L375.44,81.41 L376.03,81.41 L376.61,81.40 L377.20,81.40 L377.79,81.39 L378.38,81.39 L378.97,81.38 L379.56,81.38 L380.15,81.37 L380.74,81.37 L381.33,81.36 L381.92,81.36 L382.51,81.36 L383.10,81.35 L383.69,81.35 L384.27,81.34 L384.86,81.34 L385.45,81.33 L386.04,81.33 L386.63,81.32 L387.22,81.32 L387.81,81.31 L388.40,81.31 L388.99,81.31 L389.58,81.30 L390.17,81.30 L390.76,81.29 L391.35,81.29 L391.93,81.28" fill="none" stroke="#1a7cc4" stroke-width="1.2" stroke-dasharray="3.18,1.39"/>
<path d="M238.73,80.15 L239.32,80.76 L239.91,81.36 L240.50,81.95 L241.09,82.54 L241.68,83.13 L242.27,83.71 L242.85,84.28 L243.44,84.86 L244.03,85.42 L244.62,85.98 L245.21,86.54 L245.80,87.10 L246.39,87.64 L246.98,88.19 L247.57,88.73 L248.16,89.27 L248.75,89.80 L249.34,90.33 L249.93,90.85 L250.51,91.37 L251.10,91.88 L251.69,92.40 L252.28,92.90 L252.87,93.41 L253.46,93.91 L254.05,94.40 L254.64,94.89 L255.23,95.38 L255.82,95.87 L256.41,96.35 L257.00,96.83 L257.59,97.30 L258.18,97.77 L258.76,98.24 L259.35,98.70 L259.94,99.16 L260.53,99.62 L261.12,100.07 L261.71,100.52 L262.30,100.96 L262.89,101.41 L263.48,101.85 L264.07,102.28 L264.66,102.72 L265.25,103.15 L265.84,103.57 L266.42,104.00 L267.01,104.42 L267.60,104.83 L268.19,105.25 L268.78,105.66 L269.37,106.07 L269.96,106.47 L270.55,106.88 L271.14,107.28 L271.73,107.67 L272.32,108.07 L272.91,108.46 L273.50,108.85 L274.08,109.23 L274.67,109.06 L275.26,108.88 L275.85,108.71 L276.44,108.54 L277.03,108.37 L277.62,108.20 L278.21,108.03 L278.80,107.87 L279.39,107.70 L279.98,107.54 L280.57,107.38 L281.16,107.22 L281.75,107.07 L282.33,106.91 L282.92,106.76 L283.51,106.61 L284.10,106.45 L284.69,106.30 L285.28,106.16 L285.87,106.01 L286.46,105.86 L287.05,105.72 L287.64,105.58 L288.23,105.44 L288.82,105.30 L289.41,105.16 L289.99,105.02 L290.58,104.89 L291.17,104.75 L291.76,104.62 L292.35,104.48 L292.94,104.35 L293.53,104.22 L294.12,104.09 L294.71,103.97 L295.30,103.84 L295.89,103.71 L296.48,103.59 L297.07,103.47 L297.65,103.35 L298.24,103.22 L298.83,103.10 L299.42,102.99 L300.01,102.87 L300.60,102.75 L301.19,102.63 L301.78,102.52 L302.37,102.41 L302.96,102.29 L303.55,102.18 L304.14,102.07 L304.73,101.96 L305.32,101.85 L305.90,101.74 L306.49,101.63 L307.08,101.53 L307.67,101.42 L308.26,101.32 L308.85,101.21 L309.44,101.11 L310.03,101.01 L310.62,100.91 L311.21,100.81 L311.80,100.71 L312.39,100.61 L312.98,100.51 L313.56,100.41 L314.15,100.31 L314.74,100.22 L315.33,100.12 L315.92,100.03 L316.51,99.93 L317.10,99.84 L317.69,99.75 L318.28,99.66 L318.87,99.57 L319.46,99.47 L320.05,99.39 L320.64,99.30 L321.23,99.21 L321.81,99.12 L322.40,99.03 L322.99,98.95 L323.58,98.86 L324.17,98.78 L324.76,98.69 L325.35,98.61 L325.94,98.52 L326.53,98.44 L327.12,98.36 L327.71,98.28 L328.30,98.20 L328.89,98.11 L329.47,98.03 L330.06,97.96 L330.65,97.88 L331.24,97.80 L331.83,97.72 L332.42,97.64 L333.01,97.57 L333.60,97.49 L334.19,97.41 L334.78,97.34 L335.37,97.26 L335.96,97.19 L336.55,97.12 L337.13,97.04 L337.72,96.97 L338.31,96.90 L338.90,96.83 L339.49,96.76 L340.08,96.68 L340.67,96.61 L341.26,96.54 L341.85,96.47 L342.44,96.41 L343.03,96.34 L343.62,96.27 L344.21,96.20 L344.79,96.13 L345.38,96.07 L345.97,96.00 L346.56,95.93 L347.15,95.87 L347.74,95.80 L348.33,95.74 L348.92,95.67 L349.51,95.61 L350.10,95.54 L350.69,95.48 L351.28,95.42 L351.87,95.36 L352.46,95.29 L353.04,95.23 L353.63,95.17 L354.22,95.11 L354.81,95.05 L355.40,94.99 L355.99,94.93 L356.58,94.87 L357.17,94.81 L357.76,94.75 L358.35,94.69 L358.94,94.63 L359.53,94.57 L360.12,94.51 L360.70,94.46 L361.29,94.40 L361.88,94.34 L362.47,94.29 L363.06,94.23 L363.65,94.17 L364.24,94.12 L364.83,94.06 L365.42,94.01 L366.01,93.95 L366.60,93.90 L367.19,93.84 L367.78,93.79 L368.37,93.74 L368.95,93.68 L369.54,93.63 L370.13,93.58 L370.72,93.53 L371.31,93.47 L371.90,93.42 L372.49,93.37 L373.08,93.32 L373.67,93.27 L374.26,93.22 L374.85,93.17 L375.44,93.12 L376.03,93.07 L376.61,93.02 L377.20,92.97 L377.79,92.92 L378.38,92.87 L378.97,92.82 L379.56,92.77 L380.15,92.72 L380.74,92.67 L381.33,92.63 L381.92,92.58 L382.51,92.53 L383.10,92.48 L383.69,92.44 L384.27,92.39 L384.86,92.34 L385.45,92.30 L386.04,92.25 L386.63,92.21 L387.22,92.16 L387.81,92.11 L388.40,92.07 L388.99,92.02 L389.58,91.98 L390.17,91.93 L390.76,91.89 L391.35,91.85 L391.93,91.80" fill="none" stroke="#d62728" stroke-width="0.95"/>
<path d="M238.73,80.15 L239.32,86.19 L239.91,92.04 L240.50,97.71 L241.09,103.21 L241.68,108.54 L242.27,113.70 L242.85,118.71 L243.44,123.56 L244.03,128.26 L244.62,132.82 L245.21,137.24 L245.80,141.52 L246.39,145.67 L246.98,149.70 L247.57,153.60 L248.16,157.38 L248.75,161.05 L249.34,164.61 L249.93,168.05 L250.51,171.40 L251.10,174.64 L251.69,177.78 L252.28,180.83 L252.87,183.78 L253.46,186.65 L254.05,189.43 L254.64,192.13 L255.23,194.74 L255.82,197.28 L256.41,199.74 L257.00,202.12 L257.59,204.43 L258.18,206.68 L258.76,208.86 L259.35,210.97 L259.94,213.02 L260.53,215.01 L261.12,216.94 L261.71,218.81 L262.30,220.62 L262.89,222.39 L263.48,224.10 L264.07,225.76 L264.66,227.37 L265.25,228.93 L265.84,230.45 L266.42,231.92 L267.01,233.35 L267.60,234.74 L268.19,236.08 L268.78,237.39 L269.37,238.66 L269.96,239.89 L270.55,241.09 L271.14,242.25 L271.73,243.38 L272.32,244.48 L272.91,245.54 L273.50,246.58 L274.08,247.58 L274.67,246.56 L275.26,245.55 L275.85,244.55 L276.44,243.57 L277.03,242.59 L277.62,241.62 L278.21,240.66 L278.80,239.71 L279.39,238.77 L279.98,237.84 L280.57,236.92 L281.16,236.01 L281.75,235.10 L282.33,234.21 L282.92,233.32 L283.51,232.44 L284.10,231.58 L284.69,230.71 L285.28,229.86 L285.87,229.02 L286.46,228.18 L287.05,227.35 L287.64,226.53 L288.23,225.72 L288.82,224.91 L289.41,224.12 L289.99,223.32 L290.58,222.54 L291.17,221.77 L291.76,221.00 L292.35,220.23 L292.94,219.48 L293.53,218.73 L294.12,217.99 L294.71,217.25 L295.30,216.53 L295.89,215.80 L296.48,215.09 L297.07,214.38 L297.65,213.68 L298.24,212.98 L298.83,212.29 L299.42,211.60 L300.01,210.93 L300.60,210.25 L301.19,209.58 L301.78,208.92 L302.37,208.27 L302.96,207.62 L303.55,206.97 L304.14,206.33 L304.73,205.70 L305.32,205.07 L305.90,204.44 L306.49,203.83 L307.08,203.21 L307.67,202.60 L308.26,202.00 L308.85,201.40 L309.44,200.81 L310.03,200.22 L310.62,199.63 L311.21,199.05 L311.80,198.48 L312.39,197.91 L312.98,197.34 L313.56,196.78 L314.15,196.22 L314.74,195.67 L315.33,195.12 L315.92,194.58 L316.51,194.04 L317.10,193.50 L317.69,192.97 L318.28,192.44 L318.87,191.91 L319.46,191.39 L320.05,190.88 L320.64,190.36 L321.23,189.86 L321.81,189.35 L322.40,188.85 L322.99,188.35 L323.58,187.86 L324.17,187.37 L324.76,186.88 L325.35,186.40 L325.94,185.92 L326.53,185.44 L327.12,184.96 L327.71,184.49 L328.30,184.03 L328.89,183.56 L329.47,183.10 L330.06,182.65 L330.65,182.19 L331.24,181.74 L331.83,181.29 L332.42,180.85 L333.01,180.41 L333.60,179.97 L334.19,179.53 L334.78,179.10 L335.37,178.67 L335.96,178.24 L336.55,177.82 L337.13,177.40 L337.72,176.98 L338.31,176.56 L338.90,176.15 L339.49,175.74 L340.08,175.33 L340.67,174.92 L341.26,174.52 L341.85,174.12 L342.44,173.72 L343.03,173.33 L343.62,172.93 L344.21,172.54 L344.79,172.15 L345.38,171.77 L345.97,171.39 L346.56,171.00 L347.15,170.63 L347.74,170.25 L348.33,169.88 L348.92,169.50 L349.51,169.13 L350.10,168.77 L350.69,168.40 L351.28,168.04 L351.87,167.68 L352.46,167.32 L353.04,166.96 L353.63,166.61 L354.22,166.25 L354.81,165.90 L355.40,165.56 L355.99,165.21 L356.58,164.86 L357.17,164.52 L357.76,164.18 L358.35,163.84 L358.94,163.51 L359.53,163.17 L360.12,162.84 L360.70,162.51 L361.29,162.18 L361.88,161.85 L362.47,161.53 L363.06,161.20 L363.65,160.88 L364.24,160.56 L364.83,160.24 L365.42,159.92 L366.01,159.61 L366.60,159.29 L367.19,158.98 L367.78,158.67 L368.37,158.36 L368.95,158.06 L369.54,157.75 L370.13,157.45 L370.72,157.15 L371.31,156.85 L371.90,156.55 L372.49,156.25 L373.08,155.95 L373.67,155.66 L374.26,155.37 L374.85,155.07 L375.44,154.78 L376.03,154.50 L376.61,154.21 L377.20,153.92 L377.79,153.64 L378.38,153.36 L378.97,153.08 L379.56,152.80 L380.15,152.52 L380.74,152.24 L381.33,151.96 L381.92,151.69 L382.51,151.42 L383.10,151.15 L383.69,150.88 L384.27,150.61 L384.86,150.34 L385.45,150.07 L386.04,149.81 L386.63,149.54 L387.22,149.28 L387.81,149.02 L388.40,148.76 L388.99,148.50 L389.58,148.24 L390.17,147.99 L390.76,147.73 L391.35,147.48 L391.93,147.22" fill="none" stroke="#1f9e2b" stroke-width="1.22" stroke-dasharray="5.5,1.37,0.86,1.37"/>
<path d="M440.50,80.15 L441.09,80.29 L441.68,80.42 L442.27,80.56 L442.86,80.69 L443.45,80.82 L444.04,80.96 L444.62,81.09 L445.21,81.22 L445.80,81.35 L446.39,81.48 L446.98,81.61 L447.57,81.73 L448.16,81.86 L448.75,81.99 L449.34,82.11 L449.93,82.24 L450.52,82.36 L451.11,82.49 L451.70,82.61 L452.29,82.73 L452.87,82.85 L453.46,82.98 L454.05,83.10 L454.64,83.22 L455.23,83.34 L455.82,83.46 L456.41,83.57 L457.00,83.69 L457.59,83.81 L458.18,83.92 L458.77,84.04 L459.36,84.16 L459.95,84.27 L460.53,84.38 L461.12,84.50 L461.71,84.61 L462.30,84.72 L462.89,84.83 L463.48,84.95 L464.07,85.06 L464.66,85.17 L465.25,85.28 L465.84,85.39 L466.43,85.49 L467.02,85.60 L467.61,85.71 L468.19,85.82 L468.78,85.92 L469.37,86.03 L469.96,86.14 L470.55,86.24 L471.14,86.35 L471.73,86.45 L472.32,86.55 L472.91,86.66 L473.50,86.76 L474.09,86.86 L474.68,86.96 L475.27,87.06 L475.86,87.16 L476.44,87.12 L477.03,87.08 L477.62,87.04 L478.21,87.00 L478.80,86.96 L479.39,86.92 L479.98,86.89 L480.57,86.85 L481.16,86.81 L481.75,86.77 L482.34,86.73 L482.93,86.70 L483.52,86.66 L484.10,86.62 L484.69,86.59 L485.28,86.55 L485.87,86.52 L486.46,86.48 L487.05,86.45 L487.64,86.42 L488.23,86.38 L488.82,86.35 L489.41,86.32 L490.00,86.28 L490.59,86.25 L491.18,86.22 L491.76,86.19 L492.35,86.16 L492.94,86.12 L493.53,86.09 L494.12,86.06 L494.71,86.03 L495.30,86.00 L495.89,85.97 L496.48,85.94 L497.07,85.91 L497.66,85.88 L498.25,85.86 L498.84,85.83 L499.43,85.80 L500.01,85.77 L500.60,85.74 L501.19,85.72 L501.78,85.69 L502.37,85.66 L502.96,85.63 L503.55,85.61 L504.14,85.58 L504.73,85.55 L505.32,85.53 L505.91,85.50 L506.50,85.48 L507.09,85.45 L507.67,85.43 L508.26,85.40 L508.85,85.38 L509.44,85.35 L510.03,85.33 L510.62,85.30 L511.21,85.28 L511.80,85.26 L512.39,85.23 L512.98,85.21 L513.57,85.19 L514.16,85.16 L514.75,85.14 L515.33,85.12 L515.92,85.10 L516.51,85.07 L517.10,85.05 L517.69,85.03 L518.28,85.01 L518.87,84.99 L519.46,84.97 L520.05,84.94 L520.64,84.92 L521.23,84.90 L521.82,84.88 L522.41,84.86 L523.00,84.84 L523.58,84.82 L524.17,84.80 L524.76,84.78 L525.35,84.76 L525.94,84.74 L526.53,84.72 L527.12,84.70 L527.71,84.68 L528.30,84.66 L528.89,84.64 L529.48,84.63 L530.07,84.61 L530.66,84.59 L531.24,84.57 L531.83,84.55 L532.42,84.53 L533.01,84.52 L533.60,84.50 L534.19,84.48 L534.78,84.46 L535.37,84.44 L535.96,84.43 L536.55,84.41 L537.14,84.39 L537.73,84.37 L538.32,84.36 L538.90,84.34 L539.49,84.32 L540.08,84.31 L540.67,84.29 L541.26,84.27 L541.85,84.26 L542.44,84.24 L543.03,84.22 L543.62,84.21 L544.21,84.19 L544.80,84.18 L545.39,84.16 L545.98,84.14 L546.57,84.13 L547.15,84.11 L547.74,84.10 L548.33,84.08 L548.92,84.07 L549.51,84.05 L550.10,84.04 L550.69,84.02 L551.28,84.01 L551.87,83.99 L552.46,83.98 L553.05,83.96 L553.64,83.95 L554.23,83.93 L554.81,83.92 L555.40,83.91 L555.99,83.89 L556.58,83.88 L557.17,83.86 L557.76,83.85 L558.35,83.84 L558.94,83.82 L559.53,83.81 L560.12,83.79 L560.71,83.78 L561.30,83.77 L561.89,83.75 L562.47,83.74 L563.06,83.73 L563.65,83.71 L564.24,83.70 L564.83,83.69 L565.42,83.67 L566.01,83.66 L566.60,83.65 L567.19,83.64 L567.78,83.62 L568.37,83.61 L568.96,83.60 L569.55,83.58 L570.13,83.57 L570.72,83.56 L571.31,83.55 L571.90,83.54 L572.49,83.52 L573.08,83.51 L573.67,83.50 L574.26,83.49 L574.85,83.47 L575.44,83.46 L576.03,83.45 L576.62,83.44 L577.21,83.43 L577.80,83.42 L578.38,83.40 L578.97,83.39 L579.56,83.38 L580.15,83.37 L580.74,83.36 L581.33,83.35 L581.92,83.33 L582.51,83.32 L583.10,83.31 L583.69,83.30 L584.28,83.29 L584.87,83.28 L585.46,83.27 L586.04,83.26 L586.63,83.25 L587.22,83.24 L587.81,83.22 L588.40,83.21 L588.99,83.20 L589.58,83.19 L590.17,83.18 L590.76,83.17 L591.35,83.16 L591.94,83.15 L592.53,83.14 L593.12,83.13 L593.70,83.12" fill="none" stroke="#1a7cc4" stroke-width="1.2" stroke-dasharray="3.18,1.39"/>
<path d="M440.50,80.15 L441.09,80.85 L441.68,81.54 L442.27,82.23 L442.86,82.91 L443.45,83.59 L444.04,84.27 L444.62,84.94 L445.21,85.61 L445.80,86.27 L446.39,86.93 L446.98,87.59 L447.57,88.25 L448.16,88.90 L448.75,89.54 L449.34,90.19 L449.93,90.83 L450.52,91.47 L451.11,92.10 L451.70,92.73 L452.29,93.36 L452.87,93.98 L453.46,94.60 L454.05,95.22 L454.64,95.83 L455.23,96.44 L455.82,97.05 L456.41,97.66 L457.00,98.26 L457.59,98.86 L458.18,99.45 L458.77,100.04 L459.36,100.63 L459.95,101.22 L460.53,101.80 L461.12,102.39 L461.71,102.96 L462.30,103.54 L462.89,104.11 L463.48,104.68 L464.07,105.25 L464.66,105.81 L465.25,106.37 L465.84,106.93 L466.43,107.49 L467.02,108.04 L467.61,108.59 L468.19,109.14 L468.78,109.68 L469.37,110.23 L469.96,110.77 L470.55,111.30 L471.14,111.84 L471.73,112.37 L472.32,112.90 L472.91,113.43 L473.50,113.95 L474.09,114.48 L474.68,115.00 L475.27,115.51 L475.86,116.03 L476.44,115.82 L477.03,115.61 L477.62,115.40 L478.21,115.20 L478.80,115.00 L479.39,114.80 L479.98,114.60 L480.57,114.40 L481.16,114.21 L481.75,114.02 L482.34,113.83 L482.93,113.64 L483.52,113.45 L484.10,113.27 L484.69,113.09 L485.28,112.91 L485.87,112.73 L486.46,112.55 L487.05,112.37 L487.64,112.20 L488.23,112.03 L488.82,111.86 L489.41,111.69 L490.00,111.52 L490.59,111.35 L491.18,111.19 L491.76,111.03 L492.35,110.87 L492.94,110.71 L493.53,110.55 L494.12,110.39 L494.71,110.23 L495.30,110.08 L495.89,109.93 L496.48,109.78 L497.07,109.63 L497.66,109.48 L498.25,109.33 L498.84,109.19 L499.43,109.04 L500.01,108.90 L500.60,108.75 L501.19,108.61 L501.78,108.47 L502.37,108.34 L502.96,108.20 L503.55,108.06 L504.14,107.93 L504.73,107.79 L505.32,107.66 L505.91,107.53 L506.50,107.40 L507.09,107.27 L507.67,107.14 L508.26,107.01 L508.85,106.89 L509.44,106.76 L510.03,106.64 L510.62,106.52 L511.21,106.39 L511.80,106.27 L512.39,106.15 L512.98,106.03 L513.57,105.92 L514.16,105.80 L514.75,105.68 L515.33,105.57 L515.92,105.45 L516.51,105.34 L517.10,105.23 L517.69,105.11 L518.28,105.00 L518.87,104.89 L519.46,104.78 L520.05,104.67 L520.64,104.57 L521.23,104.46 L521.82,104.35 L522.41,104.25 L523.00,104.14 L523.58,104.04 L524.17,103.94 L524.76,103.83 L525.35,103.73 L525.94,103.63 L526.53,103.53 L527.12,103.43 L527.71,103.33 L528.30,103.23 L528.89,103.14 L529.48,103.04 L530.07,102.94 L530.66,102.85 L531.24,102.75 L531.83,102.66 L532.42,102.57 L533.01,102.47 L533.60,102.38 L534.19,102.29 L534.78,102.20 L535.37,102.11 L535.96,102.02 L536.55,101.93 L537.14,101.84 L537.73,101.75 L538.32,101.67 L538.90,101.58 L539.49,101.49 L540.08,101.41 L540.67,101.32 L541.26,101.24 L541.85,101.15 L542.44,101.07 L543.03,100.99 L543.62,100.91 L544.21,100.82 L544.80,100.74 L545.39,100.66 L545.98,100.58 L546.57,100.50 L547.15,100.42 L547.74,100.34 L548.33,100.26 L548.92,100.19 L549.51,100.11 L550.10,100.03 L550.69,99.95 L551.28,99.88 L551.87,99.80 L552.46,99.73 L553.05,99.65 L553.64,99.58 L554.23,99.50 L554.81,99.43 L555.40,99.36 L555.99,99.28 L556.58,99.21 L557.17,99.14 L557.76,99.07 L558.35,99.00 L558.94,98.93 L559.53,98.86 L560.12,98.79 L560.71,98.72 L561.30,98.65 L561.89,98.58 L562.47,98.51 L563.06,98.44 L563.65,98.37 L564.24,98.31 L564.83,98.24 L565.42,98.17 L566.01,98.11 L566.60,98.04 L567.19,97.97 L567.78,97.91 L568.37,97.84 L568.96,97.78 L569.55,97.72 L570.13,97.65 L570.72,97.59 L571.31,97.52 L571.90,97.46 L572.49,97.40 L573.08,97.34 L573.67,97.27 L574.26,97.21 L574.85,97.15 L575.44,97.09 L576.03,97.03 L576.62,96.97 L577.21,96.91 L577.80,96.85 L578.38,96.79 L578.97,96.73 L579.56,96.67 L580.15,96.61 L580.74,96.55 L581.33,96.50 L581.92,96.44 L582.51,96.38 L583.10,96.32 L583.69,96.26 L584.28,96.21 L584.87,96.15 L585.46,96.10 L586.04,96.04 L586.63,95.98 L587.22,95.93 L587.81,95.87 L588.40,95.82 L588.99,95.76 L589.58,95.71 L590.17,95.65 L590.76,95.60 L591.35,95.55 L591.94,95.49 L592.53,95.44 L593.12,95.39 L593.70,95.33" fill="none" stroke="#d62728" stroke-width="0.95"/>
<path d="M440.50,80.15 L441.09,81.54 L441.68,82.93 L442.27,84.30 L442.86,85.67 L443.45,87.03 L444.04,88.38 L444.62,89.72 L445.21,91.06 L445.80,92.39 L446.39,93.71 L446.98,95.03 L447.57,96.34 L448.16,97.64 L448.75,98.94 L449.34,100.22 L449.93,101.50 L450.52,102.78 L451.11,104.05 L451.70,105.31 L452.29,106.56 L452.87,107.81 L453.46,109.05 L454.05,110.28 L454.64,111.51 L455.23,112.73 L455.82,113.95 L456.41,115.16 L457.00,116.36 L457.59,117.56 L458.18,118.75 L458.77,119.94 L459.36,121.12 L459.95,122.29 L460.53,123.46 L461.12,124.62 L461.71,125.77 L462.30,126.93 L462.89,128.07 L463.48,129.21 L464.07,130.34 L464.66,131.47 L465.25,132.59 L465.84,133.71 L466.43,134.82 L467.02,135.93 L467.61,137.03 L468.19,138.12 L468.78,139.21 L469.37,140.30 L469.96,141.38 L470.55,142.45 L471.14,143.52 L471.73,144.59 L472.32,145.65 L472.91,146.70 L473.50,147.75 L474.09,148.80 L474.68,149.84 L475.27,150.88 L475.86,151.91 L476.44,151.49 L477.03,151.07 L477.62,150.66 L478.21,150.25 L478.80,149.84 L479.39,149.44 L479.98,149.05 L480.57,148.66 L481.16,148.27 L481.75,147.89 L482.34,147.50 L482.93,147.13 L483.52,146.76 L484.10,146.39 L484.69,146.02 L485.28,145.66 L485.87,145.30 L486.46,144.95 L487.05,144.59 L487.64,144.25 L488.23,143.90 L488.82,143.56 L489.41,143.22 L490.00,142.89 L490.59,142.56 L491.18,142.23 L491.76,141.90 L492.35,141.58 L492.94,141.26 L493.53,140.94 L494.12,140.63 L494.71,140.32 L495.30,140.01 L495.89,139.70 L496.48,139.40 L497.07,139.10 L497.66,138.80 L498.25,138.51 L498.84,138.22 L499.43,137.93 L500.01,137.64 L500.60,137.36 L501.19,137.08 L501.78,136.80 L502.37,136.52 L502.96,136.25 L503.55,135.97 L504.14,135.70 L504.73,135.44 L505.32,135.17 L505.91,134.91 L506.50,134.65 L507.09,134.39 L507.67,134.13 L508.26,133.88 L508.85,133.62 L509.44,133.37 L510.03,133.13 L510.62,132.88 L511.21,132.64 L511.80,132.39 L512.39,132.15 L512.98,131.92 L513.57,131.68 L514.16,131.44 L514.75,131.21 L515.33,130.98 L515.92,130.75 L516.51,130.52 L517.10,130.30 L517.69,130.07 L518.28,129.85 L518.87,129.63 L519.46,129.41 L520.05,129.20 L520.64,128.98 L521.23,128.77 L521.82,128.55 L522.41,128.34 L523.00,128.13 L523.58,127.93 L524.17,127.72 L524.76,127.52 L525.35,127.31 L525.94,127.11 L526.53,126.91 L527.12,126.71 L527.71,126.51 L528.30,126.32 L528.89,126.12 L529.48,125.93 L530.07,125.74 L530.66,125.55 L531.24,125.36 L531.83,125.17 L532.42,124.98 L533.01,124.80 L533.60,124.61 L534.19,124.43 L534.78,124.25 L535.37,124.07 L535.96,123.89 L536.55,123.71 L537.14,123.53 L537.73,123.36 L538.32,123.18 L538.90,123.01 L539.49,122.84 L540.08,122.66 L540.67,122.49 L541.26,122.33 L541.85,122.16 L542.44,121.99 L543.03,121.82 L543.62,121.66 L544.21,121.50 L544.80,121.33 L545.39,121.17 L545.98,121.01 L546.57,120.85 L547.15,120.69 L547.74,120.53 L548.33,120.38 L548.92,120.22 L549.51,120.06 L550.10,119.91 L550.69,119.76 L551.28,119.60 L551.87,119.45 L552.46,119.30 L553.05,119.15 L553.64,119.00 L554.23,118.85 L554.81,118.71 L555.40,118.56 L555.99,118.42 L556.58,118.27 L557.17,118.13 L557.76,117.98 L558.35,117.84 L558.94,117.70 L559.53,117.56 L560.12,117.42 L560.71,117.28 L561.30,117.14 L561.89,117.00 L562.47,116.87 L563.06,116.73 L563.65,116.59 L564.24,116.46 L564.83,116.33 L565.42,116.19 L566.01,116.06 L566.60,115.93 L567.19,115.80 L567.78,115.67 L568.37,115.54 L568.96,115.41 L569.55,115.28 L570.13,115.15 L570.72,115.02 L571.31,114.90 L571.90,114.77 L572.49,114.65 L573.08,114.52 L573.67,114.40 L574.26,114.27 L574.85,114.15 L575.44,114.03 L576.03,113.91 L576.62,113.79 L577.21,113.66 L577.80,113.55 L578.38,113.43 L578.97,113.31 L579.56,113.19 L580.15,113.07 L580.74,112.95 L581.33,112.84 L581.92,112.72 L582.51,112.61 L583.10,112.49 L583.69,112.38 L584.28,112.26 L584.87,112.15 L585.46,112.04 L586.04,111.93 L586.63,111.81 L587.22,111.70 L587.81,111.59 L588.40,111.48 L588.99,111.37 L589.58,111.26 L590.17,111.16 L590.76,111.05 L591.35,110.94 L591.94,110.83 L592.53,110.73 L593.12,110.62 L593.70,110.51" fill="none" stroke="#1f9e2b" stroke-width="1.22" stroke-dasharray="5.5,1.37,0.86,1.37"/>
<rect x="29.38" y="42.10" width="168.40" height="271.80" fill="none" stroke="#000" stroke-width="0.6"/>
<rect x="231.38" y="42.10" width="168.40" height="271.80" fill="none" stroke="#000" stroke-width="0.6"/>
<rect x="433.15" y="42.10" width="168.40" height="271.80" fill="none" stroke="#000" stroke-width="0.6"/>
<rect x="32.0" y="226.3" width="137.5" height="84.35" rx="1.2" fill="#fff" fill-opacity="0.8" stroke="#d0d0d0" stroke-width="0.6"/>
<line x1="33.90" y1="233.10" x2="45.95" y2="233.10" stroke="#1a7cc4" stroke-width="1.2" stroke-dasharray="3.18,1.39"/>
<line x1="33.90" y1="244.92" x2="45.95" y2="244.92" stroke="#7f7f7f" stroke-width="1.05" stroke-dasharray="0.9,1.38"/>
<line x1="33.90" y1="256.74" x2="45.95" y2="256.74" stroke="#d62728" stroke-width="0.8"/>
<path d="M40.22,266.93 L41.77,269.72 L38.67,269.72Z" fill="#8c564b"/>
<circle cx="40.22" cy="280.38" r="1.25" fill="#9467bd"/>
<circle cx="40.22" cy="292.20" r="1.12" fill="#ff7f0e"/>
<line x1="33.90" y1="304.02" x2="45.95" y2="304.02" stroke="#1f9e2b" stroke-width="1.22" stroke-dasharray="5.5,1.37,0.86,1.37"/>
<rect x="234.2" y="272.3" width="64.2" height="38.35" rx="1.2" fill="#fff" fill-opacity="0.8" stroke="#d0d0d0" stroke-width="0.6"/>
<line x1="236.10" y1="279.55" x2="248.15" y2="279.55" stroke="#1a7cc4" stroke-width="1.2" stroke-dasharray="3.18,1.39"/>
<line x1="236.10" y1="291.20" x2="248.15" y2="291.20" stroke="#d62728" stroke-width="0.95"/>
<line x1="236.10" y1="303.80" x2="248.15" y2="303.80" stroke="#1f9e2b" stroke-width="1.22" stroke-dasharray="5.5,1.37,0.86,1.37"/>
<rect x="436.0" y="272.3" width="85.3" height="38.35" rx="1.2" fill="#fff" fill-opacity="0.8" stroke="#d0d0d0" stroke-width="0.6"/>
<line x1="437.90" y1="279.55" x2="449.95" y2="279.55" stroke="#1a7cc4" stroke-width="1.2" stroke-dasharray="3.18,1.39"/>
<line x1="437.90" y1="291.20" x2="449.95" y2="291.20" stroke="#d62728" stroke-width="0.95"/>
<line x1="437.90" y1="303.80" x2="449.95" y2="303.80" stroke="#1f9e2b" stroke-width="1.22" stroke-dasharray="5.5,1.37,0.86,1.37"/>
</g>
<g filter="url(#tf)">
<text x="172.30" y="11.0" font-family="Liberation Serif" font-weight="normal" font-size="15.5" textLength="91.50" lengthAdjust="spacingAndGlyphs" fill="#000" stroke="#000" stroke-width="0.35">Comparison</text>
<text x="270.30" y="11.0" font-family="Liberation Serif" font-weight="normal" font-size="15.5" textLength="14.50" lengthAdjust="spacingAndGlyphs" fill="#000" stroke="#000" stroke-width="0.35">of</text>
<text x="290.40" y="11.0" font-family="Liberation Serif" font-weight="normal" font-size="15.5" textLength="72.20" lengthAdjust="spacingAndGlyphs" fill="#000" stroke="#000" stroke-width="0.35">radiolytic</text>
<text x="369.90" y="11.0" font-family="Liberation Serif" font-weight="normal" font-size="15.5" textLength="52.50" lengthAdjust="spacingAndGlyphs" fill="#000" stroke="#000" stroke-width="0.35">models</text>
<text transform="translate(0.40,33.90) scale(1.12,1)" font-family="Liberation Sans" font-size="9.3" font-weight="bold" fill="#000" stroke="#000" stroke-width="0.3">a)</text>
<text transform="translate(113.58,38.60) scale(0.96,1)" font-family="Liberation Sans" font-size="8.2" text-anchor="middle" fill="#262626" stroke="#262626" stroke-width="0.12">Two-stage</text>
<text transform="translate(24.98,316.60) scale(0.93,1)" font-family="Liberation Sans" font-size="6.9" text-anchor="end" fill="#262626" stroke="#262626" stroke-width="0.15">0.00</text>
<text transform="translate(24.98,262.24) scale(0.93,1)" font-family="Liberation Sans" font-size="6.9" text-anchor="end" fill="#262626" stroke="#262626" stroke-width="0.15">0.01</text>
<text transform="translate(24.98,207.88) scale(0.93,1)" font-family="Liberation Sans" font-size="6.9" text-anchor="end" fill="#262626" stroke="#262626" stroke-width="0.15">0.02</text>
<text transform="translate(24.98,153.52) scale(0.93,1)" font-family="Liberation Sans" font-size="6.9" text-anchor="end" fill="#262626" stroke="#262626" stroke-width="0.15">0.03</text>
<text transform="translate(24.98,99.16) scale(0.93,1)" font-family="Liberation Sans" font-size="6.9" text-anchor="end" fill="#262626" stroke="#262626" stroke-width="0.15">0.04</text>
<text transform="translate(24.98,44.80) scale(0.93,1)" font-family="Liberation Sans" font-size="6.9" text-anchor="end" fill="#262626" stroke="#262626" stroke-width="0.15">0.05</text>
<text transform="translate(36.73,322.50) scale(0.93,1)" font-family="Liberation Sans" font-size="6.9" text-anchor="middle" fill="#262626" stroke="#262626" stroke-width="0.15">0.0</text>
<text transform="translate(60.30,322.50) scale(0.93,1)" font-family="Liberation Sans" font-size="6.9" text-anchor="middle" fill="#262626" stroke="#262626" stroke-width="0.15">0.2</text>
<text transform="translate(83.87,322.50) scale(0.93,1)" font-family="Liberation Sans" font-size="6.9" text-anchor="middle" fill="#262626" stroke="#262626" stroke-width="0.15">0.4</text>
<text transform="translate(107.44,322.50) scale(0.93,1)" font-family="Liberation Sans" font-size="6.9" text-anchor="middle" fill="#262626" stroke="#262626" stroke-width="0.15">0.6</text>
<text transform="translate(131.01,322.50) scale(0.93,1)" font-family="Liberation Sans" font-size="6.9" text-anchor="middle" fill="#262626" stroke="#262626" stroke-width="0.15">0.8</text>
<text transform="translate(154.58,322.50) scale(0.93,1)" font-family="Liberation Sans" font-size="6.9" text-anchor="middle" fill="#262626" stroke="#262626" stroke-width="0.15">1.0</text>
<text transform="translate(178.15,322.50) scale(0.93,1)" font-family="Liberation Sans" font-size="6.9" text-anchor="middle" fill="#262626" stroke="#262626" stroke-width="0.15">1.2</text>
<text transform="translate(113.58,330.90) scale(1.0,1)" font-family="Liberation Sans" font-size="6.6" text-anchor="middle" fill="#262626" stroke="#262626" stroke-width="0.1">Time (s)</text>
<text transform="translate(8.18,177.50) rotate(-90) scale(1.06,1)" font-family="Liberation Sans" font-size="6.4" text-anchor="middle" fill="#262626" stroke="#262626" stroke-width="0.08">Concentration [mol/m<tspan dy="-2.1" font-size="4.6">3</tspan><tspan dy="2.1">]</tspan></text>
<text transform="translate(201.55,33.90) scale(1.12,1)" font-family="Liberation Sans" font-size="9.3" font-weight="bold" fill="#000" stroke="#000" stroke-width="0.3">b)</text>
<text transform="translate(315.58,38.60) scale(0.96,1)" font-family="Liberation Sans" font-size="8.2" text-anchor="middle" fill="#262626" stroke="#262626" stroke-width="0.12">First-order</text>
<text transform="translate(226.98,316.60) scale(0.93,1)" font-family="Liberation Sans" font-size="6.9" text-anchor="end" fill="#262626" stroke="#262626" stroke-width="0.15">0.00</text>
<text transform="translate(226.98,262.24) scale(0.93,1)" font-family="Liberation Sans" font-size="6.9" text-anchor="end" fill="#262626" stroke="#262626" stroke-width="0.15">0.01</text>
<text transform="translate(226.98,207.88) scale(0.93,1)" font-family="Liberation Sans" font-size="6.9" text-anchor="end" fill="#262626" stroke="#262626" stroke-width="0.15">0.02</text>
<text transform="translate(226.98,153.52) scale(0.93,1)" font-family="Liberation Sans" font-size="6.9" text-anchor="end" fill="#262626" stroke="#262626" stroke-width="0.15">0.03</text>
<text transform="translate(226.98,99.16) scale(0.93,1)" font-family="Liberation Sans" font-size="6.9" text-anchor="end" fill="#262626" stroke="#262626" stroke-width="0.15">0.04</text>
<text transform="translate(226.98,44.80) scale(0.93,1)" font-family="Liberation Sans" font-size="6.9" text-anchor="end" fill="#262626" stroke="#262626" stroke-width="0.15">0.05</text>
<text transform="translate(238.73,322.50) scale(0.93,1)" font-family="Liberation Sans" font-size="6.9" text-anchor="middle" fill="#262626" stroke="#262626" stroke-width="0.15">0.0</text>
<text transform="translate(262.30,322.50) scale(0.93,1)" font-family="Liberation Sans" font-size="6.9" text-anchor="middle" fill="#262626" stroke="#262626" stroke-width="0.15">0.2</text>
<text transform="translate(285.87,322.50) scale(0.93,1)" font-family="Liberation Sans" font-size="6.9" text-anchor="middle" fill="#262626" stroke="#262626" stroke-width="0.15">0.4</text>
<text transform="translate(309.44,322.50) scale(0.93,1)" font-family="Liberation Sans" font-size="6.9" text-anchor="middle" fill="#262626" stroke="#262626" stroke-width="0.15">0.6</text>
<text transform="translate(333.01,322.50) scale(0.93,1)" font-family="Liberation Sans" font-size="6.9" text-anchor="middle" fill="#262626" stroke="#262626" stroke-width="0.15">0.8</text>
<text transform="translate(356.58,322.50) scale(0.93,1)" font-family="Liberation Sans" font-size="6.9" text-anchor="middle" fill="#262626" stroke="#262626" stroke-width="0.15">1.0</text>
<text transform="translate(380.15,322.50) scale(0.93,1)" font-family="Liberation Sans" font-size="6.9" text-anchor="middle" fill="#262626" stroke="#262626" stroke-width="0.15">1.2</text>
<text transform="translate(315.58,330.90) scale(1.0,1)" font-family="Liberation Sans" font-size="6.6" text-anchor="middle" fill="#262626" stroke="#262626" stroke-width="0.1">Time (s)</text>
<text transform="translate(210.18,177.50) rotate(-90) scale(1.06,1)" font-family="Liberation Sans" font-size="6.4" text-anchor="middle" fill="#262626" stroke="#262626" stroke-width="0.08">Concentration [mol/m<tspan dy="-2.1" font-size="4.6">3</tspan><tspan dy="2.1">]</tspan></text>
<text transform="translate(405.80,33.90) scale(1.12,1)" font-family="Liberation Sans" font-size="9.3" font-weight="bold" fill="#000" stroke="#000" stroke-width="0.3">c)</text>
<text transform="translate(517.35,38.60) scale(0.96,1)" font-family="Liberation Sans" font-size="8.2" text-anchor="middle" fill="#262626" stroke="#262626" stroke-width="0.12">Zero-order</text>
<text transform="translate(428.75,316.60) scale(0.93,1)" font-family="Liberation Sans" font-size="6.9" text-anchor="end" fill="#262626" stroke="#262626" stroke-width="0.15">0.00</text>
<text transform="translate(428.75,262.24) scale(0.93,1)" font-family="Liberation Sans" font-size="6.9" text-anchor="end" fill="#262626" stroke="#262626" stroke-width="0.15">0.01</text>
<text transform="translate(428.75,207.88) scale(0.93,1)" font-family="Liberation Sans" font-size="6.9" text-anchor="end" fill="#262626" stroke="#262626" stroke-width="0.15">0.02</text>
<text transform="translate(428.75,153.52) scale(0.93,1)" font-family="Liberation Sans" font-size="6.9" text-anchor="end" fill="#262626" stroke="#262626" stroke-width="0.15">0.03</text>
<text transform="translate(428.75,99.16) scale(0.93,1)" font-family="Liberation Sans" font-size="6.9" text-anchor="end" fill="#262626" stroke="#262626" stroke-width="0.15">0.04</text>
<text transform="translate(428.75,44.80) scale(0.93,1)" font-family="Liberation Sans" font-size="6.9" text-anchor="end" fill="#262626" stroke="#262626" stroke-width="0.15">0.05</text>
<text transform="translate(440.50,322.50) scale(0.93,1)" font-family="Liberation Sans" font-size="6.9" text-anchor="middle" fill="#262626" stroke="#262626" stroke-width="0.15">0.0</text>
<text transform="translate(464.07,322.50) scale(0.93,1)" font-family="Liberation Sans" font-size="6.9" text-anchor="middle" fill="#262626" stroke="#262626" stroke-width="0.15">0.2</text>
<text transform="translate(487.64,322.50) scale(0.93,1)" font-family="Liberation Sans" font-size="6.9" text-anchor="middle" fill="#262626" stroke="#262626" stroke-width="0.15">0.4</text>
<text transform="translate(511.21,322.50) scale(0.93,1)" font-family="Liberation Sans" font-size="6.9" text-anchor="middle" fill="#262626" stroke="#262626" stroke-width="0.15">0.6</text>
<text transform="translate(534.78,322.50) scale(0.93,1)" font-family="Liberation Sans" font-size="6.9" text-anchor="middle" fill="#262626" stroke="#262626" stroke-width="0.15">0.8</text>
<text transform="translate(558.35,322.50) scale(0.93,1)" font-family="Liberation Sans" font-size="6.9" text-anchor="middle" fill="#262626" stroke="#262626" stroke-width="0.15">1.0</text>
<text transform="translate(581.92,322.50) scale(0.93,1)" font-family="Liberation Sans" font-size="6.9" text-anchor="middle" fill="#262626" stroke="#262626" stroke-width="0.15">1.2</text>
<text transform="translate(517.35,330.90) scale(1.0,1)" font-family="Liberation Sans" font-size="6.6" text-anchor="middle" fill="#262626" stroke="#262626" stroke-width="0.1">Time (s)</text>
<text transform="translate(411.95,177.50) rotate(-90) scale(1.06,1)" font-family="Liberation Sans" font-size="6.4" text-anchor="middle" fill="#262626" stroke="#262626" stroke-width="0.08">Concentration [mol/m<tspan dy="-2.1" font-size="4.6">3</tspan><tspan dy="2.1">]</tspan></text>
<text transform="translate(51.00,234.50) scale(1.1,1)" font-family="Liberation Sans" font-size="6.2" fill="#262626" stroke="#262626" stroke-width="0.04">k<tspan dy="1.3" font-size="4.0">1</tspan><tspan dy="-1.3">=0.0001 mol/m</tspan><tspan dy="-2.3" font-size="4.0">3</tspan><tspan dy="2.3">/Gy, k</tspan><tspan dy="1.3" font-size="4.0">2</tspan><tspan dy="-1.3">=10</tspan><tspan dy="-2.3" font-size="4.0">7</tspan><tspan dy="2.3"> m</tspan><tspan dy="-2.3" font-size="4.0">3</tspan><tspan dy="2.3">/mol/s</tspan></text>
<text transform="translate(51.00,246.32) scale(1.1,1)" font-family="Liberation Sans" font-size="6.2" fill="#262626" stroke="#262626" stroke-width="0.04">k<tspan dy="1.3" font-size="4.0">1</tspan><tspan dy="-1.3">=0.0005 mol/m</tspan><tspan dy="-2.3" font-size="4.0">3</tspan><tspan dy="2.3">/Gy, k</tspan><tspan dy="1.3" font-size="4.0">2</tspan><tspan dy="-1.3">=10</tspan><tspan dy="-2.3" font-size="4.0">2</tspan><tspan dy="2.3"> m</tspan><tspan dy="-2.3" font-size="4.0">3</tspan><tspan dy="2.3">/mol/s</tspan></text>
<text transform="translate(51.00,258.14) scale(1.1,1)" font-family="Liberation Sans" font-size="6.2" fill="#262626" stroke="#262626" stroke-width="0.04">k<tspan dy="1.3" font-size="4.0">1</tspan><tspan dy="-1.3">=0.0005 mol/m</tspan><tspan dy="-2.3" font-size="4.0">3</tspan><tspan dy="2.3">/Gy, k</tspan><tspan dy="1.3" font-size="4.0">2</tspan><tspan dy="-1.3">=10</tspan><tspan dy="-2.3" font-size="4.0">6</tspan><tspan dy="2.3"> m</tspan><tspan dy="-2.3" font-size="4.0">3</tspan><tspan dy="2.3">/mol/s</tspan></text>
<text transform="translate(51.00,269.96) scale(1.1,1)" font-family="Liberation Sans" font-size="6.2" fill="#262626" stroke="#262626" stroke-width="0.04">k<tspan dy="1.3" font-size="4.0">1</tspan><tspan dy="-1.3">=0.0005 mol/m</tspan><tspan dy="-2.3" font-size="4.0">3</tspan><tspan dy="2.3">/Gy, k</tspan><tspan dy="1.3" font-size="4.0">2</tspan><tspan dy="-1.3">=10</tspan><tspan dy="-2.3" font-size="4.0">7</tspan><tspan dy="2.3"> m</tspan><tspan dy="-2.3" font-size="4.0">3</tspan><tspan dy="2.3">/mol/s</tspan></text>
<text transform="translate(51.00,281.78) scale(1.1,1)" font-family="Liberation Sans" font-size="6.2" fill="#262626" stroke="#262626" stroke-width="0.04">k<tspan dy="1.3" font-size="4.0">1</tspan><tspan dy="-1.3">=0.0005 mol/m</tspan><tspan dy="-2.3" font-size="4.0">3</tspan><tspan dy="2.3">/Gy, k</tspan><tspan dy="1.3" font-size="4.0">2</tspan><tspan dy="-1.3">=10</tspan><tspan dy="-2.3" font-size="4.0">8</tspan><tspan dy="2.3"> m</tspan><tspan dy="-2.3" font-size="4.0">3</tspan><tspan dy="2.3">/mol/s</tspan></text>
<text transform="translate(51.00,293.60) scale(1.1,1)" font-family="Liberation Sans" font-size="6.2" fill="#262626" stroke="#262626" stroke-width="0.04">k<tspan dy="1.3" font-size="4.0">1</tspan><tspan dy="-1.3">=0.0005 mol/m</tspan><tspan dy="-2.3" font-size="4.0">3</tspan><tspan dy="2.3">/Gy, k</tspan><tspan dy="1.3" font-size="4.0">2</tspan><tspan dy="-1.3">=10</tspan><tspan dy="-2.3" font-size="4.0">9</tspan><tspan dy="2.3"> m</tspan><tspan dy="-2.3" font-size="4.0">3</tspan><tspan dy="2.3">/mol/s</tspan></text>
<text transform="translate(51.00,305.42) scale(1.1,1)" font-family="Liberation Sans" font-size="6.2" fill="#262626" stroke="#262626" stroke-width="0.04">k<tspan dy="1.3" font-size="4.0">1</tspan><tspan dy="-1.3">=0.001 mol/m</tspan><tspan dy="-2.3" font-size="4.0">3</tspan><tspan dy="2.3">/Gy, k</tspan><tspan dy="1.3" font-size="4.0">2</tspan><tspan dy="-1.3">=10</tspan><tspan dy="-2.3" font-size="4.0">7</tspan><tspan dy="2.3"> m</tspan><tspan dy="-2.3" font-size="4.0">3</tspan><tspan dy="2.3">/mol/s</tspan></text>
<text transform="translate(252.80,281.00) scale(1.1,1)" font-family="Liberation Sans" font-size="6.2" fill="#262626" stroke="#262626" stroke-width="0.04">k<tspan dy="-2.2" font-size="4.0">1</tspan><tspan dx="-2.4" dy="3.6" font-size="4.0">g</tspan><tspan dy="-1.4">=0.001 Gy<tspan dy="-2.3" font-size="4.0">−1</tspan></tspan></text>
<text transform="translate(252.80,293.20) scale(1.1,1)" font-family="Liberation Sans" font-size="6.2" fill="#262626" stroke="#262626" stroke-width="0.04">k<tspan dy="-2.2" font-size="4.0">1</tspan><tspan dx="-2.4" dy="3.6" font-size="4.0">g</tspan><tspan dy="-1.4">=0.01 Gy<tspan dy="-2.3" font-size="4.0">−1</tspan></tspan></text>
<text transform="translate(252.80,305.40) scale(1.1,1)" font-family="Liberation Sans" font-size="6.2" fill="#262626" stroke="#262626" stroke-width="0.04">k<tspan dy="-2.2" font-size="4.0">1</tspan><tspan dx="-2.4" dy="3.6" font-size="4.0">g</tspan><tspan dy="-1.4">=0.1 Gy<tspan dy="-2.3" font-size="4.0">−1</tspan></tspan></text>
<text transform="translate(454.20,281.00) scale(1.1,1)" font-family="Liberation Sans" font-size="6.2" fill="#262626" stroke="#262626" stroke-width="0.04">k<tspan dy="-2.2" font-size="4.0">0</tspan><tspan dx="-2.4" dy="3.6" font-size="4.0">g</tspan><tspan dy="-1.4">=0.0001 mol/m<tspan dy="-2.3" font-size="4.0">3</tspan><tspan dy="2.3">/Gy</tspan></tspan></text>
<text transform="translate(454.20,293.20) scale(1.1,1)" font-family="Liberation Sans" font-size="6.2" fill="#262626" stroke="#262626" stroke-width="0.04">k<tspan dy="-2.2" font-size="4.0">0</tspan><tspan dx="-2.4" dy="3.6" font-size="4.0">g</tspan><tspan dy="-1.4">=0.0005 mol/m<tspan dy="-2.3" font-size="4.0">3</tspan><tspan dy="2.3">/Gy</tspan></tspan></text>
<text transform="translate(454.20,305.40) scale(1.1,1)" font-family="Liberation Sans" font-size="6.2" fill="#262626" stroke="#262626" stroke-width="0.04">k<tspan dy="-2.2" font-size="4.0">0</tspan><tspan dx="-2.4" dy="3.6" font-size="4.0">g</tspan><tspan dy="-1.4">=0.001 mol/m<tspan dy="-2.3" font-size="4.0">3</tspan><tspan dy="2.3">/Gy</tspan></tspan></text>
</g>
</svg></body></html>
